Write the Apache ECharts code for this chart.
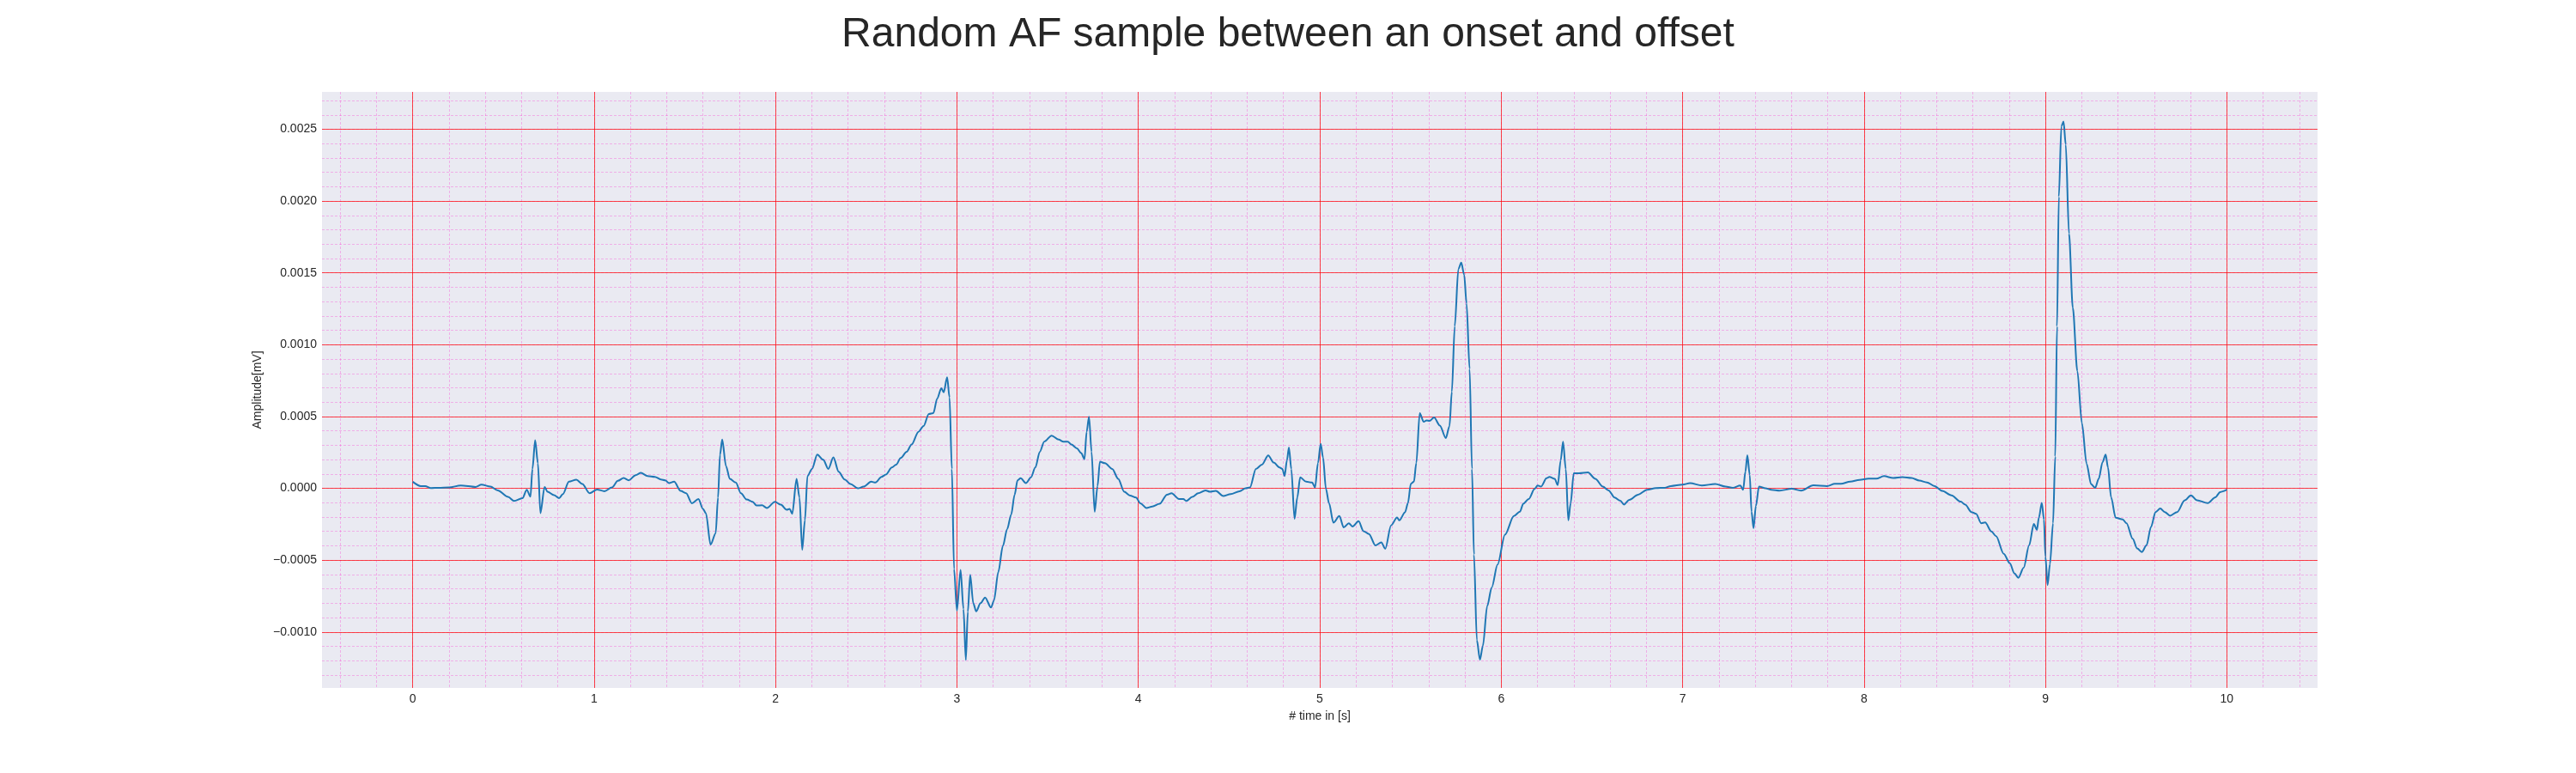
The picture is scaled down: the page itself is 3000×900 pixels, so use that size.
<!DOCTYPE html>
<html>
<head>
<meta charset="utf-8">
<title>Random AF sample</title>
<script src="https://cdn.jsdelivr.net/npm/echarts@6.0.0/dist/echarts.min.js"></script>
<style>
    html, body { margin: 0; padding: 0; background: #fff; }
    #ecgChart { width: 3000px; height: 900px; }
</style>
</head>
<body>
<div id="ecgChart"></div>
<script>
// values, time in s, amplitude in mV
const timeSec = [
    0, 0.044, 0.069, 0.1, 0.142, 0.2, 0.265, 0.346, 0.379, 0.428, 0.469, 0.526, 0.559, 0.605, 0.629, 0.649,
    0.66, 0.675, 0.69, 0.704, 0.727, 0.743, 0.779, 0.807, 0.828, 0.861, 0.902, 0.935, 0.975,
    1.016, 1.057, 1.098, 1.131, 1.163, 1.191, 1.229, 1.258, 1.294, 1.335, 1.368, 1.392, 1.413, 1.441,
    1.477, 1.507, 1.539, 1.575, 1.6, 1.616, 1.642, 1.67, 1.683, 1.694, 1.706, 1.727, 1.748, 1.781,
    1.809, 1.841, 1.874, 1.895, 1.926, 1.952, 1.997, 2.029, 2.062, 2.078, 2.092, 2.116, 2.132, 2.147,
    2.162, 2.176, 2.201, 2.23, 2.263, 2.291, 2.319, 2.348, 2.381, 2.413, 2.454,
    2.486, 2.527, 2.551, 2.584, 2.608, 2.641, 2.665, 2.69, 2.723, 2.75, 2.788, 2.816, 2.845, 2.87,
    2.891, 2.914, 2.927, 2.946, 2.959, 2.972, 2.984, 3.0, 3.02, 3.036, 3.049, 3.06, 3.073, 3.09,
    3.106, 3.13, 3.155, 3.188, 3.204, 3.228, 3.253, 3.277, 3.299, 3.318, 3.334, 3.351, 3.38, 3.408,
    3.432, 3.457, 3.481, 3.522, 3.561, 3.587, 3.611, 3.631, 3.661, 3.685, 3.703, 3.715, 3.728, 3.742,
    3.759, 3.775, 3.788, 3.816, 3.856, 3.889, 3.922, 3.954, 3.987, 4.011, 4.044, 4.077, 4.117, 4.158,
    4.183, 4.224, 4.248, 4.264, 4.297, 4.33, 4.37, 4.395, 4.427, 4.468, 4.509, 4.558, 4.591, 4.615,
    4.648, 4.681, 4.716, 4.746, 4.778, 4.794, 4.806, 4.819, 4.83, 4.843, 4.861, 4.876, 4.892, 4.925,
    4.958, 4.974,
    4.99, 5.005, 5.018, 5.034, 5.051, 5.075, 5.108, 5.132, 5.16, 5.181, 5.214, 5.241, 5.271, 5.307,
    5.339, 5.361, 5.393, 5.426, 5.439, 5.47, 5.486, 5.502, 5.519, 5.532, 5.551, 5.573, 5.589, 5.605,
    5.63, 5.662, 5.695, 5.715, 5.728, 5.744, 5.764, 5.78, 5.796, 5.809, 5.826, 5.839, 5.85, 5.866,
    5.883, 5.899, 5.923, 5.948, 5.98, 6.021, 6.07, 6.103, 6.122, 6.152, 6.184, 6.201, 6.22, 6.25,
    6.266, 6.295, 6.312, 6.328, 6.341, 6.356, 6.37, 6.383, 6.4, 6.429, 6.478, 6.519, 6.56, 6.592,
    6.625, 6.657, 6.677, 6.706, 6.755, 6.804, 6.853, 6.902, 6.935, 7.0, 7.041, 7.106, 7.18, 7.237,
    7.277, 7.318, 7.334, 7.346, 7.357, 7.37, 7.38, 7.391, 7.404, 7.421, 7.457, 7.489,
    7.535, 7.602, 7.653, 7.721, 7.797, 7.839, 7.873, 7.924, 7.975, 8.025, 8.068, 8.11, 8.161, 8.212,
    8.262, 8.305, 8.347, 8.389, 8.431, 8.482, 8.533, 8.558, 8.592, 8.618, 8.646, 8.668, 8.702, 8.728,
    8.77, 8.804, 8.829, 8.851, 8.88, 8.91, 8.936, 8.953, 8.964, 8.98, 8.992, 9.0, 9.012, 9.025,
    9.042, 9.054, 9.064, 9.074, 9.088, 9.1, 9.112, 9.13, 9.151, 9.176, 9.201, 9.227, 9.252, 9.274,
    9.294, 9.315, 9.332, 9.345, 9.362, 9.387, 9.426, 9.447, 9.481, 9.506, 9.531, 9.557, 9.582, 9.607,
    9.633, 9.658, 9.687, 9.726, 9.768, 9.802, 9.836, 9.895, 9.937, 9.963, 10.0
];

const amplitude = [
    0.46e-4, 0.16e-4, 0.16e-4, 0.02e-4, 0.04e-4, 0.06e-4, 0.2e-4, 0.1e-4, 0.26e-4, 0.12e-4, -0.14e-4, -0.6e-4, -0.88e-4, -0.68e-4, -0.1e-4, -0.58e-4,
    1.35e-4, 3.35e-4, 1.75e-4, -1.73e-4, 0.1e-4, -0.24e-4, -0.48e-4, -0.68e-4, -0.4e-4, 0.46e-4, 0.6e-4, 0.3e-4, -0.34e-4,
    -0.08e-4, -0.2e-4, 0.06e-4, 0.52e-4, 0.72e-4, 0.56e-4, 0.92e-4, 1.08e-4, 0.86e-4, 0.8e-4, 0.62e-4, 0.56e-4, 0.36e-4, 0.46e-4,
    -0.18e-4, -0.34e-4, -1.04e-4, -0.74e-4, -1.43e-4, -1.73e-4, -3.92e-4, -3.13e-4, -0.64e-4, 2.35e-4, 3.39e-4, 1.55e-4, 0.66e-4, 0.4e-4,
    -0.34e-4, -0.78e-4, -0.94e-4, -1.2e-4, -1.18e-4, -1.37e-4, -0.94e-4, -1.14e-4, -1.49e-4, -1.43e-4, -1.77e-4, 0.66e-4, -0.64e-4, -4.28e-4,
    -2.23e-4, 0.86e-4, 1.35e-4, 2.35e-4, 1.99e-4, 1.35e-4, 2.15e-4, 1.16e-4, 0.62e-4, 0.3e-4, 0,
    0.12e-4, 0.46e-4, 0.4e-4, 0.8e-4, 0.96e-4, 1.45e-4, 1.65e-4, 2.11e-4, 2.55e-4, 3.05e-4, 3.94e-4, 4.34e-4, 5.18e-4, 5.24e-4,
    6.24e-4, 6.97e-4, 6.69e-4, 7.73e-4, 6.33e-4, 1.35e-4, -5.62e-4, -8.5e-4, -5.68e-4, -8.4e-4, -11.95e-4, -8.6e-4, -6.02e-4, -8.0e-4,
    -8.57e-4, -8.0e-4, -7.6e-4, -8.3e-4, -7.81e-4, -5.82e-4, -4.02e-4, -2.83e-4, -1.83e-4, -0.44e-4, 0.56e-4, 0.7e-4, 0.36e-4, 0.76e-4,
    1.45e-4, 2.55e-4, 3.25e-4, 3.67e-4, 3.39e-4, 3.25e-4, 3.25e-4, 3.05e-4, 2.79e-4, 2.45e-4, 2.03e-4, 3.94e-4, 4.98e-4, 2.55e-4,
    -1.63e-4, 0.16e-4, 1.85e-4, 1.75e-4, 1.35e-4, 0.66e-4, -0.24e-4, -0.5e-4, -0.64e-4, -1.04e-4, -1.37e-4, -1.27e-4, -1.08e-4, -0.44e-4,
    -0.34e-4, -0.74e-4, -0.74e-4, -0.88e-4, -0.6e-4, -0.34e-4, -0.14e-4, -0.24e-4, -0.18e-4, -0.54e-4, -0.4e-4, -0.2e-4, 0, 0.06e-4,
    1.35e-4, 1.65e-4, 2.29e-4, 1.79e-4, 1.45e-4, 1.35e-4, 0.86e-4, 1.95e-4, 2.85e-4, 1.35e-4, -2.13e-4, -0.64e-4, 0.76e-4, 0.46e-4,
    0.4e-4, 0.06e-4,
    1.75e-4, 3.1e-4, 2.15e-4, -0.04e-4, -1.03e-4, -2.39e-4, -1.93e-4, -2.72e-4, -2.43e-4, -2.66e-4, -2.29e-4, -2.98e-4, -3.18e-4, -3.98e-4,
    -3.76e-4, -4.21e-4, -2.58e-4, -2.03e-4, -2.23e-4, -1.67e-4, -1.03e-4, 0.32e-4, 0.46e-4, 1.75e-4, 5.23e-4, 4.63e-4, 4.73e-4, 4.69e-4,
    4.93e-4, 4.37e-4, 3.5e-4, 4.33e-4, 6.72e-4, 11.29e-4, 15.27e-4, 15.71e-4, 14.87e-4, 12.88e-4, 8.31e-4, 1.35e-4, -4.61e-4, -10.58e-4,
    -11.93e-4, -10.97e-4, -8.19e-4, -6.9e-4, -5.31e-4, -3.22e-4, -1.93e-4, -1.63e-4, -1.07e-4, -0.74e-4, -0.04e-4, 0.2e-4, 0.12e-4, 0.7e-4,
    0.8e-4, 0.66e-4, 0.22e-4, 1.95e-4, 3.24e-4, 1.35e-4, -2.23e-4, -1.03e-4, 1.05e-4, 1.05e-4, 1.11e-4, 0.66e-4, 0.12e-4, -0.14e-4,
    -0.64e-4, -0.87e-4, -1.13e-4, -0.8e-4, -0.44e-4, -0.1e-4, 0.02e-4, 0.04e-4, 0.16e-4, 0.26e-4, 0.36e-4, 0.2e-4, 0.3e-4, 0.12e-4,
    0.04e-4, 0.2e-4, -0.1e-4, 1.15e-4, 2.31e-4, 0.95e-4, -1.63e-4, -2.78e-4, -1.23e-4, 0.12e-4, 0, -0.1e-4,
    -0.16e-4, -0.03e-4, -0.16e-4, 0.21e-4, 0.16e-4, 0.31e-4, 0.31e-4, 0.47e-4, 0.59e-4, 0.67e-4, 0.67e-4, 0.85e-4, 0.72e-4, 0.78e-4,
    0.72e-4, 0.54e-4, 0.41e-4, 0.16e-4, -0.18e-4, -0.49e-4, -0.93e-4, -1.14e-4, -1.65e-4, -1.78e-4, -2.43e-4, -2.38e-4, -3.0e-4, -3.33e-4,
    -4.55e-4, -5.22e-4, -5.92e-4, -6.23e-4, -5.53e-4, -3.98e-4, -2.48e-4, -2.89e-4, -2.04e-4, -1.01e-4, -2.17e-4, -4.75e-4, -6.74e-4, -5.27e-4,
    -2.43e-4, 2.22e-4, 11.27e-4, 20.31e-4, 25.22e-4, 25.53e-4, 23.93e-4, 17.73e-4, 12.56e-4, 8.17e-4, 4.55e-4, 1.71e-4, 0.28e-4, 0.03e-4,
    0.67e-4, 1.83e-4, 2.35e-4, 1.45e-4, -0.62e-4, -2.04e-4, -2.17e-4, -2.43e-4, -3.51e-4, -4.19e-4, -4.44e-4, -3.98e-4, -2.69e-4, -1.65e-4,
    -1.4e-4, -1.65e-4, -1.91e-4, -1.65e-4, -0.83e-4, -0.49e-4, -0.83e-4, -1.03e-4, -0.62e-4, -0.26e-4, -0.1e-4
];

// axis limits and grid steps
const xRange = [-0.5, 10.5];
const yRange = [-0.00139, 0.00276];
const xMajorStep = 1;
const xMinorStep = 0.2;
const yMajorStep = 0.0005;
const yMinorStep = 0.0001;

const FONT = '"Liberation Sans", Arial, sans-serif';
const TEXT = '#262626';
const MAJOR = { color: 'rgba(255, 0, 0, 0.7)', width: 1 };
const MINOR = { color: 'rgba(255, 0, 200, 0.25)', width: 1, type: [3, 2] };

function fmtY(v) {
    if (Math.abs(v) < 1e-12) return '0.0000';
    return v.toFixed(4).replace('-', '\u2212');
}

// one axis draws the red major grid and labels, a hidden twin draws the minor grid
function gridAxis(range, step, lineStyle, withLabels, extra) {
    return Object.assign({
        type: 'value',
        min: range[0],
        max: range[1],
        minInterval: step,
        maxInterval: step,
        splitNumber: Math.round((range[1] - range[0]) / step),
        axisLine: { show: false },
        axisTick: { show: false },
        axisLabel: withLabels
            ? { show: true, fontSize: 14, color: TEXT, fontFamily: FONT, showMinLabel: false, showMaxLabel: false }
            : { show: false },
        splitLine: { show: true, showMinLine: false, showMaxLine: false, lineStyle: lineStyle },
        z: withLabels ? 1 : 0
    }, extra || {});
}

const chart = echarts.init(document.getElementById('ecgChart'));
chart.setOption({
    animation: false,
    backgroundColor: '#ffffff',
    title: {
        text: 'Random AF sample between an onset and offset',
        left: 'center',
        top: 12,
        textStyle: { fontSize: 48, fontWeight: 'normal', color: TEXT, fontFamily: FONT }
    },
    grid: {
        left: 375, right: 301, top: 107, bottom: 99,
        show: true, backgroundColor: '#eaeaf2', borderWidth: 0
    },
    xAxis: [
        gridAxis(xRange, xMajorStep, MAJOR, true, {
            position: 'bottom',
            name: '# time in [s]',
            nameLocation: 'middle',
            nameGap: 26,
            nameTextStyle: { fontSize: 14, color: TEXT, fontFamily: FONT },
            axisLabel: { show: true, fontSize: 14, color: TEXT, fontFamily: FONT, margin: 6,
                showMinLabel: false, showMaxLabel: false }
        }),
        gridAxis(xRange, xMinorStep, MINOR, false, { position: 'top' })
    ],
    yAxis: [
        gridAxis(yRange, yMajorStep, MAJOR, true, {
            position: 'left',
            name: 'Amplitude[mV]',
            nameLocation: 'middle',
            nameGap: 64,
            nameTextStyle: { fontSize: 14, color: TEXT, fontFamily: FONT },
            axisLabel: { show: true, fontSize: 14, color: TEXT, fontFamily: FONT, margin: 6,
                showMinLabel: false, showMaxLabel: false, formatter: fmtY }
        }),
        gridAxis(yRange, yMinorStep, MINOR, false, { position: 'right' })
    ],
    series: [{
        type: 'line',
        xAxisIndex: 0,
        yAxisIndex: 0,
        data: timeSec.map((t, i) => [t, amplitude[i]]),
        showSymbol: false,
        smooth: 0.3,
        smoothMonotone: 'x',
        lineStyle: { color: '#1f77b4', width: 2 },
        z: 5
    }]
});
</script>
</body>
</html>
